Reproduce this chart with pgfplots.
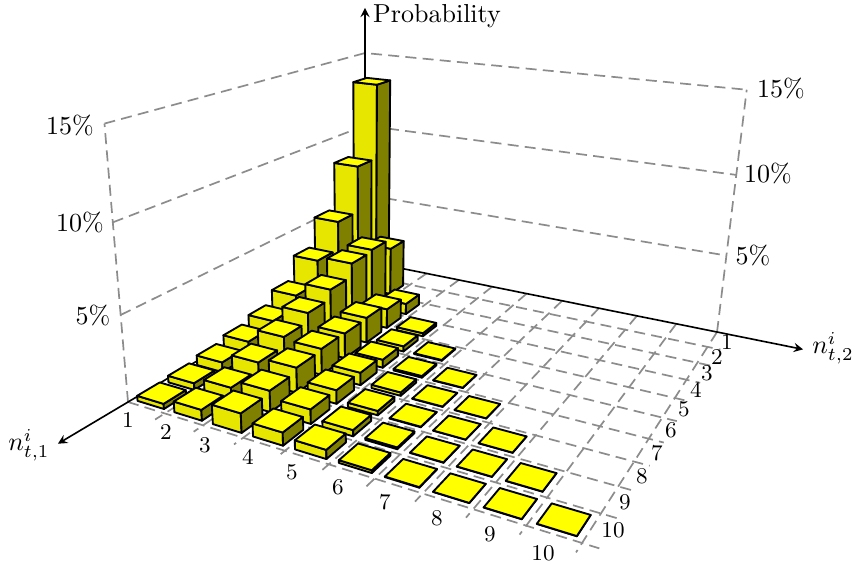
\documentclass[border=0pt]{standalone}
\usepackage{pgfplots}
\pgfplotsset{compat=1.18}
\definecolor{topc}{RGB}{255,255,0}
\definecolor{frontc}{RGB}{230,230,0}
\definecolor{sidec}{RGB}{128,128,0}
\pgfplotsset{persp/.style={filter point/.code={%
  \pgfkeysgetvalue{/data point/x}\myU
  \pgfkeysgetvalue{/data point/y}\myV
  \pgfkeysgetvalue{/data point/z}\myZ
  \pgfmathsetmacro\myS{\myU/10}%
  \pgfmathsetmacro\myT{\myV/10}%
  \pgfmathsetmacro\myH{\myZ/15}%
  \pgfmathsetmacro\myW{1-0.15151*\myS-0.26972*\myT-0.066*\myH}%
  \pgfmathsetmacro\myX{(243.37*\myS-271.52*\myT-24.09*\myH+365)/\myW}%
  \pgfmathsetmacro\myY{(20.70*\myS+32.57*\myT-211.5*\myH+261)/\myW}%
  \pgfkeyslet{/data point/x}\myX
  \pgfkeyslet{/data point/y}\myY
  \pgfkeyssetvalue{/data point/z}{0}%
}}}
\newcommand\B[3]{%
  \pgfmathsetmacro\ua{#1-1+0.14}\pgfmathsetmacro\ub{#1-0.14}%
  \pgfmathsetmacro\va{#2-1+0.14}\pgfmathsetmacro\vb{#2-0.14}%
  \addplot3[bar, fill=frontc] coordinates {(\ua,\vb,0) (\ub,\vb,0) (\ub,\vb,#3) (\ua,\vb,#3)} -- cycle;
  \addplot3[bar, fill=sidec] coordinates {(\ub,\va,0) (\ub,\vb,0) (\ub,\vb,#3) (\ub,\va,#3)} -- cycle;
  \addplot3[bar, fill=topc] coordinates {(\ua,\va,#3) (\ub,\va,#3) (\ub,\vb,#3) (\ua,\vb,#3)} -- cycle;
}
\begin{document}
\begin{tikzpicture}
\begin{axis}[
  scale only axis, width=342pt, height=225.2pt,
  view={0}{90}, hide axis, clip=false,
  xmin=0, xmax=855, ymin=0, ymax=563, zmin=0, zmax=1, y dir=reverse,
  persp,
  grid line/.style={gray!90, line width=0.68pt, dash pattern=on 4.4pt off 2.5pt, mark=none},
  solid line/.style={black, line width=0.65pt, mark=none},
  bar/.style={draw=black, line width=0.75pt, line join=round, mark=none},
]
% walls
\addplot3[grid line] coordinates {(0,10,0) (0,10,15)};
\addplot3[grid line] coordinates {(10,0,0) (10,0,15)};
\addplot3[grid line] coordinates {(0,10,5) (0,0,5) (10,0,5)};
\addplot3[grid line] coordinates {(0,10,10) (0,0,10) (10,0,10)};
\addplot3[grid line] coordinates {(0,10,15) (0,0,15) (10,0,15)};
% floor
\addplot3[grid line] coordinates {(1,0,0) (1,10.3,0)};
\addplot3[grid line] coordinates {(2,0,0) (2,10.3,0)};
\addplot3[grid line] coordinates {(3,0,0) (3,10.3,0)};
\addplot3[grid line] coordinates {(4,0,0) (4,10.3,0)};
\addplot3[grid line] coordinates {(5,0,0) (5,10.3,0)};
\addplot3[grid line] coordinates {(6,0,0) (6,10.3,0)};
\addplot3[grid line] coordinates {(7,0,0) (7,10.3,0)};
\addplot3[grid line] coordinates {(8,0,0) (8,10.3,0)};
\addplot3[grid line] coordinates {(9,0,0) (9,10.3,0)};
\addplot3[grid line] coordinates {(10,0,0) (10,10.3,0)};
\addplot3[grid line] coordinates {(0,1,0) (10.3,1,0)};
\addplot3[grid line] coordinates {(0,2,0) (10.3,2,0)};
\addplot3[grid line] coordinates {(0,3,0) (10.3,3,0)};
\addplot3[grid line] coordinates {(0,4,0) (10.3,4,0)};
\addplot3[grid line] coordinates {(0,5,0) (10.3,5,0)};
\addplot3[grid line] coordinates {(0,6,0) (10.3,6,0)};
\addplot3[grid line] coordinates {(0,7,0) (10.3,7,0)};
\addplot3[grid line] coordinates {(0,8,0) (10.3,8,0)};
\addplot3[grid line] coordinates {(0,9,0) (10.3,9,0)};
\addplot3[grid line] coordinates {(0,10,0) (10.3,10,0)};
% axes
\addplot3[solid line, -stealth] coordinates {(0,0,0) (12,0,0)};
\addplot3[solid line, -stealth] coordinates {(0,0,0) (0,12,0)};
\addplot3[solid line, -stealth] coordinates {(0,0,0) (0,0,18)};
% bars
\B{1}{1}{13.4}\B{1}{2}{8.44}\B{1}{3}{5.35}\B{1}{4}{3.49}\B{1}{5}{2.0}\B{1}{6}{1.24}\B{1}{7}{0.88}\B{1}{8}{0.6}\B{1}{9}{0.4}\B{1}{10}{0.3}
\B{2}{2}{3.2}\B{2}{3}{3.9}\B{2}{4}{3.77}\B{2}{5}{2.9}\B{2}{6}{2.3}\B{2}{7}{1.75}\B{2}{8}{1.2}\B{2}{9}{0.77}\B{2}{10}{0.62}
\B{3}{3}{0.7}\B{3}{4}{1.24}\B{3}{5}{1.6}\B{3}{6}{1.56}\B{3}{7}{1.6}\B{3}{8}{1.5}\B{3}{9}{1.24}\B{3}{10}{1.1}
\B{4}{4}{0.2}\B{4}{5}{0.33}\B{4}{6}{0.5}\B{4}{7}{0.75}\B{4}{8}{0.8}\B{4}{9}{0.83}\B{4}{10}{0.73}
\B{5}{5}{0.05}\B{5}{6}{0.1}\B{5}{7}{0.2}\B{5}{8}{0.25}\B{5}{9}{0.35}\B{5}{10}{0.5}
\B{6}{6}{0.02}\B{6}{7}{0.02}\B{6}{8}{0.03}\B{6}{9}{0.1}\B{6}{10}{0.15}
\B{7}{7}{0.01}\B{7}{8}{0.01}\B{7}{9}{0.02}\B{7}{10}{0.03}
\B{8}{8}{0.01}\B{8}{9}{0.01}\B{8}{10}{0.01}
\B{9}{9}{0.01}\B{9}{10}{0.01}
\B{10}{10}{0.01}
% labels
\begin{scope}[every node/.style={scale=1.04}]
\node at (axis cs:437,16,0) {Probability};
\node at (axis cs:29,445,0) {$n_{t,1}^i$};
\node at (axis cs:833,348,0) {$n_{t,2}^i$};
\node at (axis cs:70,125,0) {15\%};
\node at (axis cs:80,222,0) {10\%};
\node at (axis cs:93,315,0) {5\%};
\node at (axis cs:781,88,0) {15\%};
\node at (axis cs:768,173,0) {10\%};
\node at (axis cs:753,255,0) {5\%};
\end{scope}
\begin{scope}[every node/.style={font=\small}]
\node at (axis cs:128,420,0) {1};
\node at (axis cs:166,432,0) {2};
\node at (axis cs:205,445,0) {3};
\node at (axis cs:248,457,0) {4};
\node at (axis cs:292,472,0) {5};
\node at (axis cs:338,487,0) {6};
\node at (axis cs:385,502,0) {7};
\node at (axis cs:437,518,0) {8};
\node at (axis cs:490,534,0) {9};
\node at (axis cs:543,553,0) {10};
\node at (axis cs:727,342,0) {1};
\node at (axis cs:717,357,0) {2};
\node at (axis cs:707,373,0) {3};
\node at (axis cs:696,390,0) {4};
\node at (axis cs:684,409,0) {5};
\node at (axis cs:671,430,0) {6};
\node at (axis cs:657,453,0) {7};
\node at (axis cs:642,476,0) {8};
\node at (axis cs:625,502,0) {9};
\node at (axis cs:613,530,0) {10};
\end{scope}
\end{axis}
\pgfresetboundingbox
\path[use as bounding box] (0,0) rectangle (342pt,225.2pt);
\end{tikzpicture}
\end{document}
